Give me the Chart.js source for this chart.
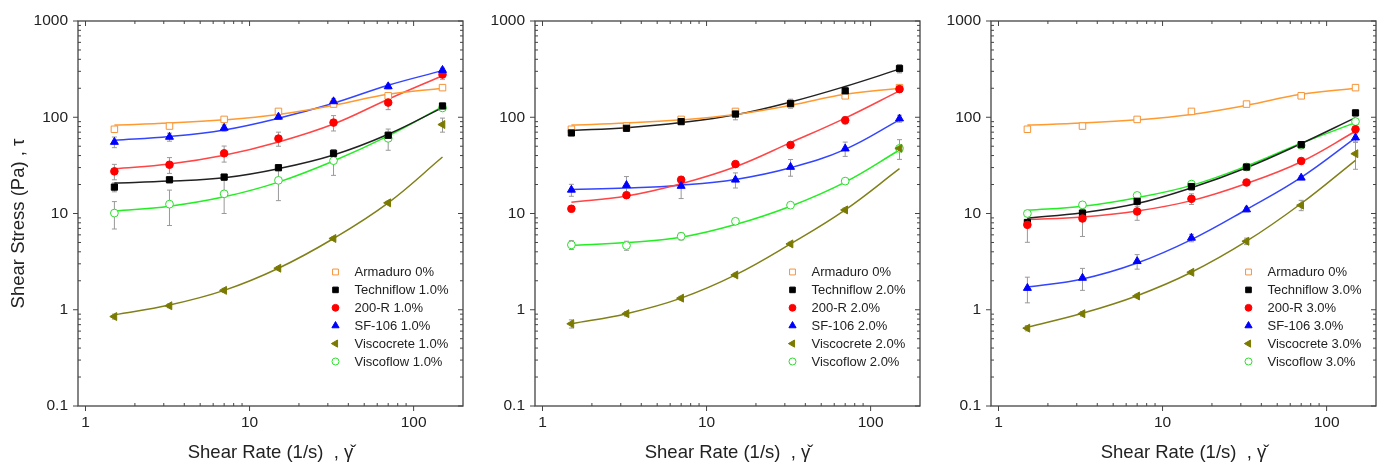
<!DOCTYPE html>
<html>
<head>
<meta charset="utf-8">
<script src="https://cdn.jsdelivr.net/npm/chart.js@4.4.1/dist/chart.umd.min.js"></script>
<style>
  html, body { margin: 0; padding: 0; background: #fff; overflow: hidden; }
  canvas { position: absolute; top: 0; }
</style>
</head>
<body>
<canvas id="p1" width="469" height="464" style="left:0px"></canvas>
<canvas id="p2" width="469" height="464" style="left:457px"></canvas>
<canvas id="p3" width="469" height="464" style="left:913px"></canvas>
<script>
// DATA

const shearRate = [1.5, 3.25, 7, 15, 32.5, 70, 150];
const xTickLabels = [1, 10, 100];
const yTickLabels = [0.1, 1, 10, 100, 1000];

// reference mix, same in every panel
const armaduro = [75, 81, 95, 115, 137, 167, 203];
const armaduroFit = [83, 87, 94, 107, 133, 173, 200];
const armaduroErr = [5, 3, 4, 5, 7, 8, 10];

// 1.0 %
const techniflow1 = [18.8, 22.4, 23.9, 29.9, 42.2, 65, 131];
const techniflow1Fit = [20.7, 21.7, 23.5, 29.2, 40.5, 66.5, 126];
const techniflow1Err = [2, 1.5, 1.5, 2, 4, 5, 8];
const r200_1 = [27.4, 32.1, 42.2, 60, 88, 142, 278];
const r200_1Fit = [29.2, 32.6, 40.2, 55.3, 85, 154, 270];
const r200_1Err = [5, 6, 8, 10, 16, 22, 30];
const sf106_1 = [55.3, 62.4, 77.4, 101, 146, 209, 309];
const sf106_1Fit = [57.6, 63, 73.8, 97.7, 140, 215, 305];
const sf106_1Err = [7, 6, 6, 6, 10, 12, 15];
const viscocrete1 = [0.85, 1.1, 1.59, 2.7, 5.5, 12.9, 84];
const viscocrete1Fit = [0.887, 1.12, 1.59, 2.7, 5.5, 12.9, 38.6];
const viscocrete1Err = [0.05, 0.05, 0.08, 0.1, 0.2, 0.5, 14];
const viscoflow1 = [10.1, 12.5, 16.0, 22.1, 35.4, 60.4, 125];
const viscoflow1Fit = [10.6, 11.9, 14.9, 21.2, 35.1, 64, 129];
const viscoflow1Err = [3.2, 5, 6, 8.5, 10.5, 15, 5];

// 2.0 %
const techniflow2 = [68.7, 76.8, 90, 108, 139, 188, 321];
const techniflow2Fit = [73, 78, 88, 106, 144, 209, 316];
const techniflow2Err = [3, 4, 5, 14, 15, 12, 32];
const r200_2 = [11.2, 15.5, 22.4, 32.6, 51.5, 93, 196];
const r200_2Fit = [13.1, 15.2, 20.4, 30.6, 54.5, 98, 188];
const r200_2Err = [0.8, 1, 1.5, 2, 3, 8, 15];
const sf106_2 = [17.6, 19.7, 19.3, 22.4, 30.4, 47.2, 96.8];
const sf106_2Fit = [17.8, 18.4, 19.7, 22.6, 29.9, 46.4, 93.8];
const sf106_2Err = [2.5, 4.5, 5, 4, 6, 8, 8];
const viscocrete2 = [0.715, 0.91, 1.32, 2.3, 4.83, 10.9, 47.5];
const viscocrete2Fit = [0.715, 0.91, 1.32, 2.3, 4.83, 10.9, 29.2];
const viscocrete2Err = [0.07, 0.05, 0.06, 0.1, 0.2, 0.5, 2];
const viscoflow2 = [4.72, 4.65, 5.8, 8.3, 12.2, 21.7, 47.5];
const viscoflow2Fit = [4.67, 4.99, 5.67, 7.68, 11.9, 21.2, 45.7];
const viscoflow2Err = [0.5, 0.5, 0.5, 0.5, 0.6, 1, 11];

// 3.0 %
const techniflow3 = [8.06, 10.1, 13.4, 19, 30.4, 51.9, 111];
const techniflow3Fit = [8.94, 10.2, 12.7, 18.5, 29.9, 53.2, 99];
const techniflow3Err = [0.5, 1, 1.5, 1.5, 2, 3, 8];
const r200_3 = [7.62, 8.87, 10.5, 14.2, 21.0, 35.1, 75];
const r200_3Fit = [8.66, 9.2, 10.6, 13.6, 20.5, 34.5, 71.5];
const r200_3Err = [2.6, 3.1, 2, 1.8, 1.5, 2, 5];
const sf106_3 = [1.68, 2.14, 3.19, 5.58, 11.0, 23.5, 61.4];
const sf106_3Fit = [1.72, 2.09, 3.06, 5.36, 11, 23.7, 61];
const sf106_3Err = [0.5, 0.55, 0.55, 0.5, 0.6, 1, 6];
const viscocrete3 = [0.644, 0.91, 1.39, 2.45, 5.15, 12.2, 41.8];
const viscocrete3Fit = [0.66, 0.92, 1.4, 2.45, 5.15, 12.7, 35.7];
const viscocrete3Err = [0.04, 0.05, 0.06, 0.1, 0.4, 1.5, 13];
const viscoflow3 = [10.0, 12.3, 15.4, 20.2, 30.4, 51.1, 90.2];
const viscoflow3Fit = [10.8, 11.9, 14.6, 19.6, 31.1, 53.6, 88];
const viscoflow3Err = [0.5, 0.5, 0.6, 0.8, 1, 2, 4];

const xTitle = 'Shear Rate (1/s)  , \u03B3\u030C';
const yTitle = 'Shear Stress (Pa) , \u03C4';

// STYLES

const FONT = "'Liberation Sans', Arial, sans-serif";

const styles = {
  armaduro: { color: '#F5943A', line: '#FF9A30', fill: '#fff', pointStyle: 'rect', rotation: 0, r: 4.6 },
  techniflow: { color: '#000', line: '#222', fill: '#000', pointStyle: 'rect', rotation: 0, r: 4.4 },
  r200: { color: '#FF0000', line: '#FF4545', fill: '#FF0000', pointStyle: 'circle', rotation: 0, r: 3.8 },
  sf106: { color: '#0000FF', line: '#3345FF', fill: '#0000FF', pointStyle: 'triangle', rotation: 0, r: 4.6 },
  viscocrete: { color: '#7A7A00', line: '#808018', fill: '#7A7A00', pointStyle: 'triangle', rotation: -90, r: 4.6 },
  viscoflow: { color: '#2EDB2E', line: '#22EE22', fill: '#fff', pointStyle: 'circle', rotation: 0, r: 3.9 },
};

const toPoints = (vals) => shearRate.map((x, i) => ({ x, y: vals[i] }));

let seriesIndex = 0;
const makeSeries = (label, key, vals, fit, err) => {
  const s = styles[key];
  seriesIndex = (seriesIndex + 1) % 6;
  return [
    {
      label,
      data: toPoints(vals),
      err,
      order: 10 - seriesIndex,
      showLine: false,
      pointStyle: s.pointStyle,
      pointRotation: s.rotation,
      pointRadius: s.r,
      pointBackgroundColor: s.fill,
      pointBorderColor: s.color,
      pointBorderWidth: 1,
    },
    {
      data: toPoints(fit),
      order: 20,
      showLine: true,
      borderColor: s.line,
      borderWidth: 1.5,
      pointRadius: 0,
      tension: 0.4,
    },
  ];
};

// PLUGINS

const logTicks = (min, max) => {
  const out = [];
  for (let e = Math.floor(Math.log10(min)); e <= Math.ceil(Math.log10(max)); e++) {
    for (let k = 1; k <= 9; k++) {
      const v = k * Math.pow(10, e);
      if (v >= min * 0.999 && v <= max * 1.001) out.push([v, k === 1]);
    }
  }
  return out;
};

const frame = {
  id: 'frame',
  afterDraw(chart) {
    const { ctx, chartArea: a, scales: { x, y } } = chart;
    const line = (x1, y1, x2, y2) => {
      ctx.beginPath();
      ctx.moveTo(x1, y1);
      ctx.lineTo(x2, y2);
      ctx.stroke();
    };
    ctx.save();
    ctx.strokeStyle = '#444';
    ctx.lineWidth = 1.3;
    ctx.strokeRect(a.left, a.top, a.right - a.left, a.bottom - a.top);
    ctx.lineWidth = 1;
    logTicks(x.min, x.max).forEach(([v, major]) => {
      const px = x.getPixelForValue(v);
      if (!major && (px < a.left + 1 || px > a.right - 1)) return;
      if (major) {
        line(px, a.bottom, px, a.bottom + 5);
        line(px, a.top, px, a.top + 5);
      } else {
        line(px, a.bottom, px, a.bottom - 3);
        line(px, a.top, px, a.top + 3);
      }
    });
    logTicks(y.min, y.max).forEach(([v, major]) => {
      const py = y.getPixelForValue(v);
      if (!major && (py < a.top + 1 || py > a.bottom - 1)) return;
      if (major) {
        line(a.left - 5, py, a.left, py);
        line(a.right - 5, py, a.right, py);
      } else {
        line(a.left, py, a.left + 3, py);
        line(a.right - 3, py, a.right, py);
      }
    });
    ctx.restore();
  },
};

const errorBars = {
  id: 'errorBars',
  beforeDatasetsDraw(chart) {
    const { ctx, scales: { x, y } } = chart;
    ctx.save();
    ctx.strokeStyle = '#999';
    ctx.lineWidth = 1;
    chart.data.datasets.forEach((ds) => {
      if (!ds.err) return;
      ds.data.forEach((p, i) => {
        const e = ds.err[i];
        if (!e) return;
        const px = x.getPixelForValue(p.x);
        const top = y.getPixelForValue(p.y + e);
        const bot = y.getPixelForValue(Math.max(p.y - e, p.y * 0.05));
        ctx.beginPath();
        ctx.moveTo(px, top);
        ctx.lineTo(px, bot);
        ctx.moveTo(px - 2.5, top);
        ctx.lineTo(px + 2.5, top);
        ctx.moveTo(px - 2.5, bot);
        ctx.lineTo(px + 2.5, bot);
        ctx.stroke();
      });
    });
    ctx.restore();
  },
};

const inLegend = {
  id: 'inLegend',
  afterDatasetsDraw(chart) {
    const { ctx, chartArea: a } = chart;
    const items = chart.data.datasets.filter((d) => d.label);
    ctx.save();
    ctx.font = `13px ${FONT}`;
    ctx.textBaseline = 'middle';
    items.forEach((d, i) => {
      const yy = a.top + 251 + i * 17.9;
      ctx.fillStyle = d.pointBackgroundColor;
      ctx.strokeStyle = d.pointBorderColor;
      ctx.lineWidth = 1;
      Chart.helpers.drawPoint(
        ctx,
        { pointStyle: d.pointStyle, radius: d.pointRadius * 0.9, rotation: d.pointRotation, borderWidth: 1 },
        a.left + 257.5,
        yy
      );
      ctx.fillStyle = '#222';
      ctx.fillText(d.label, a.left + 276.5, yy + 0.5);
    });
    ctx.restore();
  },
};

const yAxisTitle = {
  id: 'yAxisTitle',
  afterDraw(chart) {
    const { ctx } = chart;
    ctx.save();
    ctx.translate(19, 223.5);
    ctx.rotate(-Math.PI / 2);
    ctx.font = `18.5px ${FONT}`;
    ctx.fillStyle = '#222';
    ctx.textAlign = 'center';
    ctx.textBaseline = 'middle';
    ctx.fillText(yTitle, 0, 0);
    ctx.restore();
  },
};

// CHARTS

const makeChart = (id, datasets, extra) =>
  new Chart(document.getElementById(id), {
    type: 'scatter',
    data: { datasets },
    plugins: [errorBars, frame, inLegend].concat(extra || []),
    options: {
      responsive: false,
      animation: false,
      layout: { padding: { left: 0, right: 6, top: 21, bottom: 0 } },
      plugins: { legend: { display: false }, tooltip: { enabled: false } },
      scales: {
        x: {
          type: 'logarithmic',
          position: 'bottom',
          min: 0.9,
          max: 200,
          afterBuildTicks: (s) => { s.ticks = xTickLabels.map((v) => ({ value: v })); },
          afterFit: (s) => { s.height = 58; },
          grid: { display: false, drawTicks: false },
          border: { display: false },
          ticks: {
            padding: 7,
            autoSkip: false,
            maxRotation: 0,
            color: '#222',
            font: { family: FONT, size: 15.5 },
            callback: (v) => String(v),
          },
          title: {
            display: true,
            text: xTitle,
            color: '#222',
            font: { family: FONT, size: 18.5 },
            padding: { top: 0, bottom: 0 },
          },
        },
        y: {
          type: 'logarithmic',
          position: 'left',
          min: 0.1,
          max: 1000,
          afterBuildTicks: (s) => { s.ticks = yTickLabels.map((v) => ({ value: v })); },
          afterFit: (s) => { s.width = 78; },
          grid: { display: false, drawTicks: false },
          border: { display: false },
          ticks: {
            padding: 10,
            autoSkip: false,
            color: '#222',
            font: { family: FONT, size: 15.5 },
            callback: (v) => String(v),
          },
        },
      },
    },
  });

makeChart('p1', [
  ...makeSeries('Armaduro 0%', 'armaduro', armaduro, armaduroFit, armaduroErr),
  ...makeSeries('Techniflow 1.0%', 'techniflow', techniflow1, techniflow1Fit, techniflow1Err),
  ...makeSeries('200-R 1.0%', 'r200', r200_1, r200_1Fit, r200_1Err),
  ...makeSeries('SF-106 1.0%', 'sf106', sf106_1, sf106_1Fit, sf106_1Err),
  ...makeSeries('Viscocrete 1.0%', 'viscocrete', viscocrete1, viscocrete1Fit, viscocrete1Err),
  ...makeSeries('Viscoflow 1.0%', 'viscoflow', viscoflow1, viscoflow1Fit, viscoflow1Err),
], [yAxisTitle]);

makeChart('p2', [
  ...makeSeries('Armaduro 0%', 'armaduro', armaduro, armaduroFit, armaduroErr),
  ...makeSeries('Techniflow 2.0%', 'techniflow', techniflow2, techniflow2Fit, techniflow2Err),
  ...makeSeries('200-R 2.0%', 'r200', r200_2, r200_2Fit, r200_2Err),
  ...makeSeries('SF-106 2.0%', 'sf106', sf106_2, sf106_2Fit, sf106_2Err),
  ...makeSeries('Viscocrete 2.0%', 'viscocrete', viscocrete2, viscocrete2Fit, viscocrete2Err),
  ...makeSeries('Viscoflow 2.0%', 'viscoflow', viscoflow2, viscoflow2Fit, viscoflow2Err),
]);

makeChart('p3', [
  ...makeSeries('Armaduro 0%', 'armaduro', armaduro, armaduroFit, armaduroErr),
  ...makeSeries('Techniflow 3.0%', 'techniflow', techniflow3, techniflow3Fit, techniflow3Err),
  ...makeSeries('200-R 3.0%', 'r200', r200_3, r200_3Fit, r200_3Err),
  ...makeSeries('SF-106 3.0%', 'sf106', sf106_3, sf106_3Fit, sf106_3Err),
  ...makeSeries('Viscocrete 3.0%', 'viscocrete', viscocrete3, viscocrete3Fit, viscocrete3Err),
  ...makeSeries('Viscoflow 3.0%', 'viscoflow', viscoflow3, viscoflow3Fit, viscoflow3Err),
]);
</script>
</body>
</html>
